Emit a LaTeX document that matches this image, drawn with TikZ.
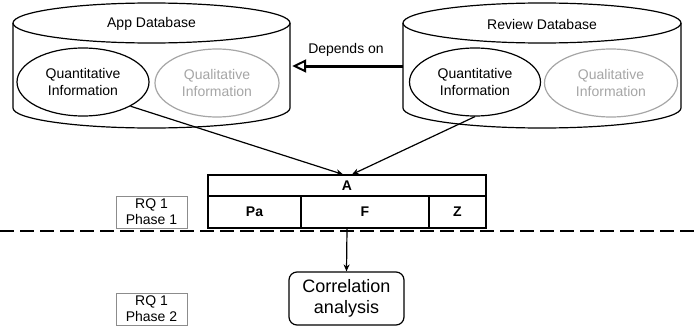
\documentclass[tikz,border=0pt]{standalone}
\usepackage{fontspec}
\setmainfont{Liberation Sans}
\usetikzlibrary{arrows.meta,shapes.geometric}
\definecolor{lightgr}{HTML}{A6A6A6}
\definecolor{boxgr}{HTML}{8C8C8C}
\begin{document}
\begin{tikzpicture}[x=1pt,y=1pt,
  txt/.style={font=\fontsize{14}{17}\selectfont, align=center},
  infoell/.style={ellipse, draw, line width=1.2pt, inner sep=0pt, txt},
  greyell/.style={infoell, draw=lightgr, text=lightgr},
  cell/.style={draw, line width=1.2pt, inner sep=0pt, font=\fontsize{14}{17}\selectfont\bfseries},
  rqbox/.style={draw=boxgr, line width=0.8pt, inner sep=0pt, minimum width=71pt, minimum height=32pt, align=center, font=\fontsize{14}{16}\selectfont},
  conn/.style={line width=1.2pt, -{Stealth[length=7pt,width=6pt]}},
  cylframe/.style={line width=1.2pt, fill=white}]
\fill[white] (0,0) rectangle (696,333);
\useasboundingbox (0,0) rectangle (696,333);

% App Database cylinder
\draw[cylframe] (13,310) -- (13,225) arc[start angle=180, end angle=360, x radius=138.5pt, y radius=20pt] -- (290,310);
\draw[line width=1.2pt] (151.5,310) ellipse [x radius=138.5pt, y radius=20pt];
\node[inner sep=0, minimum width=277pt, minimum height=125pt] (appdb) at (151.5,267.5) {};
\node[txt] (appdbl) at (151.5,309) {App Database};

% Review Database cylinder
\draw[cylframe] (403,310) -- (403,225) arc[start angle=180, end angle=360, x radius=139pt, y radius=20pt] -- (681,310);
\draw[line width=1.2pt] (542,310) ellipse [x radius=139pt, y radius=20pt];
\node[inner sep=0, minimum width=278pt, minimum height=125pt] (revdb) at (542,267.5) {};
\node[txt] (revdbl) at (542,309) {Review Database};

% ellipses
\node[infoell, minimum width=132pt, minimum height=68pt] (lq) at (83,251) {Quantitative\\Information};
\node[greyell, minimum width=124pt, minimum height=68pt] (lql) at (217,250) {Qualitative\\Information};
\node[infoell, minimum width=131pt, minimum height=68pt] (rq) at (475,251) {Quantitative\\Information};
\node[greyell, minimum width=133pt, minimum height=68pt] (rql) at (611,250) {Qualitative\\Information};

% Depends on
\draw[line width=3pt, -{Triangle[open, length=14pt, width=13pt, line width=2pt]}] ([yshift=-0.5pt]revdb.west) -- ([xshift=2pt,yshift=-0.5pt]appdb.east);
\node[txt] (dep) at (346,283) {Depends on};

% table
\node[cell, minimum width=278pt, minimum height=21pt] (A) at (347,147.5) {A};
\node[cell, minimum width=93pt, minimum height=32pt] (Pa) at (254.5,121) {Pa};
\node[cell, minimum width=128pt, minimum height=32pt] (F) at (365,121) {F};
\node[cell, minimum width=57pt, minimum height=32pt] (Z) at (457.5,121) {Z};

% arrows into A
\draw[conn] (lq.-27) -- ([xshift=-4pt]A.north);
\draw[conn] (rq.south) -- ([xshift=5pt]A.north);

% RQ boxes
\node[rqbox] (ph1) at (151.5,121) {RQ 1\\Phase 1};
\node[rqbox] (ph2) at (151.5,24) {RQ 1\\Phase 2};

% dashed separator
\coordinate (dl) at (0,102);
\coordinate (dr) at (696,102);
\draw[line width=1.2pt, dash pattern=on 14pt off 6pt] (dl) -- (dr);

% correlation
\node[draw, line width=1.2pt, rounded corners=8pt, minimum width=115pt, minimum height=53pt, align=center, font=\fontsize{18}{21}\selectfont] (corr) at (346.5,34.5) {Correlation\\analysis};
\coordinate (fout) at (A.center |- F.south);
\draw[conn] (fout) -- (corr.north);
\end{tikzpicture}
\end{document}
